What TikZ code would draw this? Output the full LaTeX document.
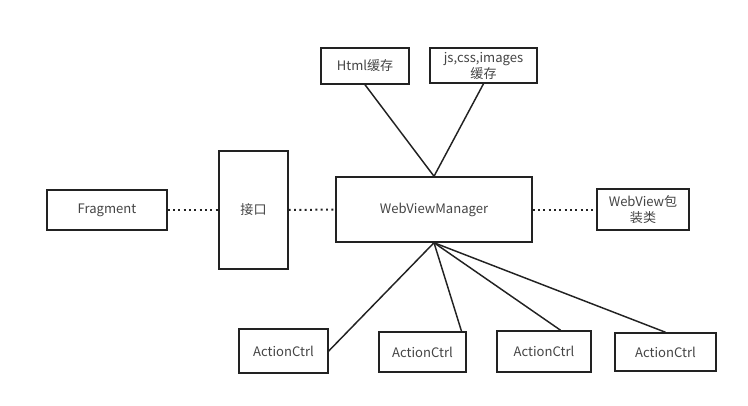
\documentclass[tikz,border=0pt]{standalone}
\usepackage{fontspec}
\setmainfont{Noto Sans CJK SC}
\definecolor{edge}{HTML}{222222}
\definecolor{txt}{HTML}{444444}
\begin{document}
\begin{tikzpicture}[x=0.75pt,y=-0.75pt,
  box/.style={draw=edge,line width=1.1pt,inner sep=0pt,align=center,
    text=txt,font=\fontsize{9.8}{12}\selectfont},
  link/.style={draw=edge,line width=1.1pt},
  dots/.style={draw=edge,line width=1.5pt,dash pattern=on 1.4pt off 2.6pt}]
\useasboundingbox (0,0) rectangle (748,406);

\node[box,minimum width=90pt,minimum height=30pt] (frag) at (107,210) {Fragment};
\node[box,minimum width=51.75pt,minimum height=88.5pt] (api) at (253.5,210) {接口};
\node[box,minimum width=147pt,minimum height=48.75pt] (mgr) at (434,209.5) {WebViewManager};
\node[box,minimum width=69pt,minimum height=30.75pt] (wrap) at (643,209.5) {WebView包\\装类};

\node[box,minimum width=66pt,minimum height=27pt] (html) at (365,66) {Html缓存};
\node[box,minimum width=80.25pt,minimum height=26.25pt] (res) at (483.5,65.5) {js,css,images\\缓存};

\node[box,minimum width=66.75pt,minimum height=33pt] (act1) at (283.5,351) {ActionCtrl};
\node[box,minimum width=65.25pt,minimum height=30pt] (act2) at (422.5,352) {ActionCtrl};
\node[box,minimum width=70.5pt,minimum height=30.75pt] (act3) at (544,351.5) {ActionCtrl};
\node[box,minimum width=75.75pt,minimum height=28.5pt] (act4) at (665.5,352) {ActionCtrl};

% dotted links along the middle row
\draw[dots] (frag.east) -- (api.west);
\draw[dots] (api.east) -- (mgr.west);
\draw[dots] (mgr.east) -- (wrap.west);

% caches
\draw[link] (html.south) -- (mgr.north);
\draw[link] (res.south) -- (mgr.north);

% action controllers
\draw[link] (mgr.south) -- (act1.east);
\draw[link] (mgr.south) -- (act2.28);
\draw[link] (mgr.south) -- (act3.52);
\draw[link] (mgr.south) -- (act4.north);
\end{tikzpicture}
\end{document}
